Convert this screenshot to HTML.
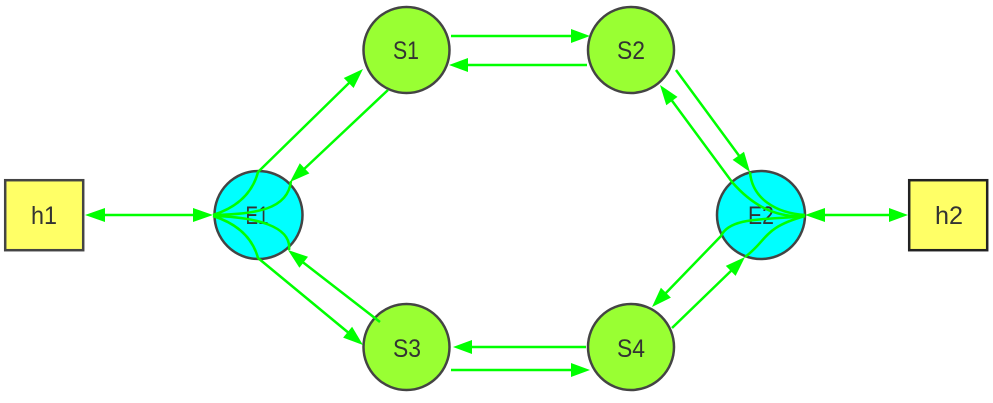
<!DOCTYPE html>
<html><head><meta charset="utf-8"><style>
html,body{margin:0;padding:0;background:#fff;width:993px;height:403px;overflow:hidden}
svg{display:block}
text{font-family:"Liberation Sans",sans-serif;font-size:25px;fill:#333;text-anchor:middle}
.n{stroke:#444;stroke-width:2.5}
.e{fill:none;stroke:#0f0;stroke-width:2.5}
.a{fill:#0f0;stroke:none}
</style></head><body>
<svg width="993" height="403" viewBox="0 0 993 403" xmlns="http://www.w3.org/2000/svg">
<rect class="n" x="5.2" y="180.2" width="78" height="70" fill="#ffff66"/>
<rect x="909.2" y="180.2" width="78" height="70" fill="#ffff66" stroke="#222" stroke-width="2.5"/>
<circle class="n" cx="258.5" cy="215" r="44" fill="#00ffff"/>
<circle class="n" cx="761" cy="215" r="44" fill="#00ffff"/>
<circle class="n" cx="406.5" cy="50" r="43" fill="#99ff33"/>
<circle class="n" cx="631" cy="50" r="43" fill="#99ff33"/>
<circle class="n" cx="406.5" cy="347" r="43" fill="#99ff33"/>
<circle class="n" cx="631" cy="347" r="43" fill="#99ff33"/>
<text x="44" y="224" textLength="26" lengthAdjust="spacingAndGlyphs">h1</text>
<text x="949" y="224" textLength="28" lengthAdjust="spacingAndGlyphs">h2</text>
<text x="257" y="224" textLength="23" lengthAdjust="spacingAndGlyphs">E1</text>
<text x="761" y="224" textLength="26" lengthAdjust="spacingAndGlyphs">E2</text>
<text x="406" y="59" textLength="26" lengthAdjust="spacingAndGlyphs">S1</text>
<text x="631" y="59" textLength="28" lengthAdjust="spacingAndGlyphs">S2</text>
<text x="407" y="357" textLength="28" lengthAdjust="spacingAndGlyphs">S3</text>
<text x="631" y="357" textLength="28" lengthAdjust="spacingAndGlyphs">S4</text>
<path class="e" d="M100 215H200"/>
<path class="e" d="M822 215H892"/>
<path class="e" d="M451 36H575"/>
<path class="e" d="M587 65H464"/>
<path class="e" d="M586 347H468"/>
<path class="e" d="M451 370H575"/>
<path class="e" d="M213 215C235 208 252 195 258 172L350 82"/>
<path class="e" d="M388 90L302 171"/>
<path class="e" d="M213 215C255 214 288 210 291 181"/>
<path class="e" d="M213 216C255 217 292 226 289 250"/>
<path class="e" d="M213 216C235 223 252 236 258 258L350 334"/>
<path class="e" d="M380 322L300 260"/>
<path class="e" d="M676 70L740 157"/>
<path class="e" d="M750 172C752 198 775 213 805 215"/>
<path class="e" d="M805 216C775 218 752 205 732 182L670 98"/>
<path class="e" d="M805 216C770 220 730 216 721 236L663 296"/>
<path class="e" d="M672 328L734 268"/>
<path class="e" d="M745 257C768 240 762 228 805 216"/>
<polygon class="a" points="85,215 105,208 105,222"/>
<polygon class="a" points="213,215 193,208 193,222"/>
<polygon class="a" points="805,215 825,208 825,222"/>
<polygon class="a" points="908,215 889,208 889,222"/>
<polygon class="a" points="590,36 571,29 571,43"/>
<polygon class="a" points="449,65 468,58 468,72"/>
<polygon class="a" points="453,347 472,340 472,354"/>
<polygon class="a" points="590,370 571,363 571,377"/>
<polygon class="a" points="363,69 353.6,88 343.8,78"/>
<polygon class="a" points="290,182 309.4,173.4 299.8,163.2"/>
<polygon class="a" points="288,250 308,256.8 299.4,267.8"/>
<polygon class="a" points="363,345 352.1,326.8 343.1,337.6"/>
<polygon class="a" points="750,172 744,151.7 732.6,159.9"/>
<polygon class="a" points="660,85 677.5,96.9 666.3,105.3"/>
<polygon class="a" points="652,307 670.9,297.6 660.9,287.8"/>
<polygon class="a" points="745,257 735.6,275.9 725.8,265.9"/>
</svg>
</body></html>
